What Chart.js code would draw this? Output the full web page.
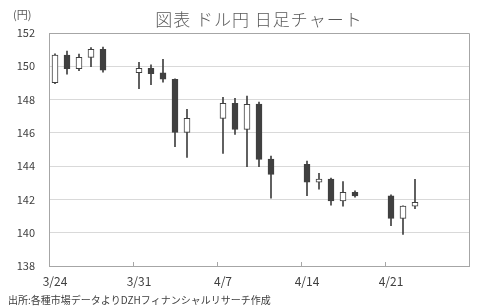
<!DOCTYPE html>
<html>
<head>
<meta charset="utf-8">
<script src="https://cdn.jsdelivr.net/npm/chart.js@4.4.0/dist/chart.umd.min.js"></script>
<style>
  html, body { margin: 0; padding: 0; background: #fff; }
  #wrap { width: 489px; height: 308px; }
</style>
</head>
<body>
<div id="wrap"><canvas id="chart" width="489" height="308"></canvas></div>
<script>
// calendar days on the date axis (weekends stay empty)
const calendar = [
  "3/24", "3/25", "3/26", "3/27", "3/28", "3/29", "3/30",
  "3/31", "4/1", "4/2", "4/3", "4/4", "4/5", "4/6",
  "4/7", "4/8", "4/9", "4/10", "4/11", "4/12", "4/13",
  "4/14", "4/15", "4/16", "4/17", "4/18", "4/19", "4/20",
  "4/21", "4/22", "4/23", "4/24", "4/25", "4/26", "4/27",
];
const tickLabels = ["3/24", "3/31", "4/7", "4/14", "4/21"];

const tradeDays = [
  "3/24", "3/25", "3/26", "3/27", "3/28",
  "3/31", "4/1", "4/2", "4/3", "4/4",
  "4/7", "4/8", "4/9", "4/10", "4/11",
  "4/14", "4/15", "4/16", "4/17", "4/18",
  "4/21", "4/22", "4/23",
];
const opens = [
  149.01, 150.68, 149.85, 150.54, 151.02,
  149.61, 149.88, 149.6, 149.22, 146.03,
  146.87, 147.78, 146.21, 147.73, 144.43,
  144.11, 143.03, 143.23, 141.91, 142.43,
  142.21, 140.86, 141.59,
];
const highs = [
  150.75, 150.92, 150.74, 151.12, 151.16,
  150.24, 150.08, 150.42, 149.25, 147.42,
  148.14, 148.08, 148.21, 147.85, 144.61,
  144.31, 143.57, 143.29, 143.07, 142.51,
  142.27, 141.62, 143.21,
];
const lows = [
  148.95, 149.52, 149.73, 149.97, 149.64,
  148.65, 148.89, 149.04, 145.17, 144.53,
  144.77, 145.91, 143.97, 143.97, 142.07,
  142.22, 142.61, 141.66, 141.6, 142.13,
  140.42, 139.9, 141.45,
];
const closes = [
  150.68, 149.85, 150.54, 151.02, 149.76,
  149.88, 149.55, 149.22, 146.03, 146.87,
  147.78, 146.21, 147.72, 144.41, 143.51,
  143.03, 143.23, 141.91, 142.43, 142.21,
  140.86, 141.6, 141.83,
];

const dark = "#404040";
const axisGray = "#a6a6a6";

const textPlugin = {
  id: "texts",
  afterDraw(chart) {
    const ctx = chart.ctx;
    const area = chart.chartArea;
    const x = chart.scales.x;
    ctx.save();
    // inside tick marks every 7 days
    const step = x.getPixelForValue(1) - x.getPixelForValue(0);
    ctx.strokeStyle = axisGray;
    ctx.lineWidth = 1;
    for (let k = 0; k <= calendar.length; k += 7) {
      const px = Math.round(x.getPixelForValue(k) - step / 2) + 0.5;
      ctx.beginPath();
      ctx.moveTo(px, area.bottom);
      ctx.lineTo(px, area.bottom - 4);
      ctx.stroke();
    }
    // top / right border of the plot
    ctx.beginPath();
    ctx.moveTo(area.left, Math.round(area.top) + 0.5);
    ctx.lineTo(Math.round(area.right) + 0.5, Math.round(area.top) + 0.5);
    ctx.lineTo(Math.round(area.right) + 0.5, area.bottom);
    ctx.stroke();

    ctx.fillStyle = "#595959";
    ctx.textBaseline = "middle";
    ctx.textAlign = "center";
    ctx.font = '300 17px "Noto Sans CJK JP"';
    ctx.letterSpacing = "1px";
    ctx.fillText("図表 ドル円 日足チャート", (area.left + area.right) / 2, 20);
    ctx.letterSpacing = "0px";
    ctx.textAlign = "left";
    ctx.font = '11px "Noto Sans CJK JP"';
    ctx.fillText("(円)", 13, 15);
    ctx.fillStyle = dark;
    ctx.font = '10px "Noto Sans CJK JP"';
    ctx.fillText("出所:各種市場データよりDZHフィナンシャルリサーチ作成", 8, 300);
    ctx.restore();
  },
};

const ctx = document.getElementById("chart").getContext("2d");

new Chart(ctx, {
  type: "bar",
  data: {
    labels: calendar,
    datasets: [
      {
        label: "body",
        data: tradeDays.map((d, i) => ({ x: d, y: [opens[i], closes[i]] })),
        backgroundColor: tradeDays.map((d, i) => (closes[i] >= opens[i] ? "#ffffff" : dark)),
        borderColor: dark,
        borderWidth: 1,
        borderSkipped: false,
        barThickness: 6,
        grouped: false,
        order: 0,
      },
      {
        label: "wick",
        data: tradeDays.map((d, i) => ({ x: d, y: [lows[i], highs[i]] })),
        backgroundColor: dark,
        borderWidth: 0,
        barThickness: 1,
        grouped: false,
        order: 1,
      },
    ],
  },
  options: {
    responsive: false,
    animation: false,
    layout: { padding: { top: 33, right: 20, left: 0, bottom: 0 } },
    plugins: { legend: { display: false }, tooltip: { enabled: false } },
    scales: {
      x: {
        offset: true,
        grid: { display: false, drawTicks: false },
        border: { color: axisGray },
        afterFit(scale) { scale.height = 42; },
        ticks: {
          autoSkip: false,
          maxRotation: 0,
          padding: 8,
          color: dark,
          font: { family: '"Noto Sans CJK JP"', size: 12 },
          callback: (v, i) => (tickLabels.includes(calendar[i]) ? calendar[i] : ""),
        },
      },
      y: {
        min: 138,
        max: 152,
        grid: { color: "#d9d9d9", drawTicks: false },
        border: { color: axisGray },
        afterFit(scale) { scale.width = 49; },
        ticks: {
          stepSize: 2,
          padding: 14,
          color: dark,
          font: { family: '"Noto Sans CJK JP"', size: 11 },
        },
      },
    },
  },
  plugins: [textPlugin],
});
</script>
</body>
</html>
